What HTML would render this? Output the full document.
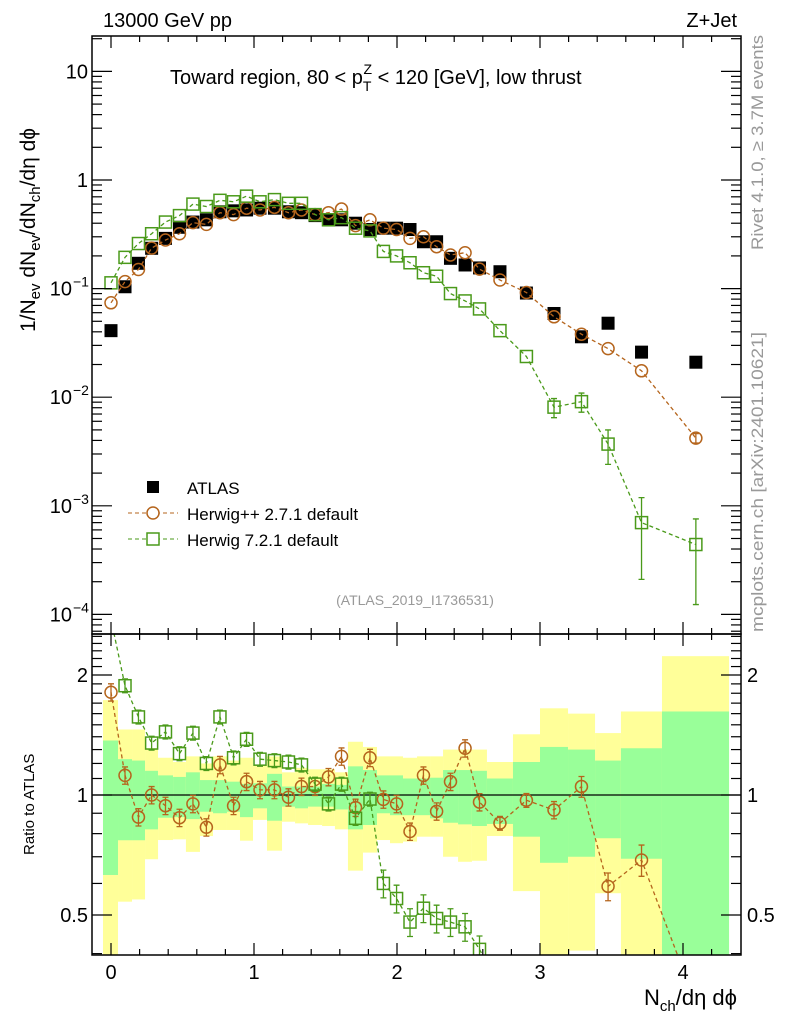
<!DOCTYPE html>
<html><head><meta charset="utf-8"><style>
html,body{margin:0;padding:0;background:#fff;overflow:hidden;width:786px;height:1024px;}
svg{display:block;font-family:"Liberation Sans",sans-serif;}
</style></head><body>
<svg id="chart" width="786" height="1024" viewBox="0 0 786 1024" xmlns="http://www.w3.org/2000/svg">
<g id="bands"></g>
<g id="marks"></g>
<g id="axes"></g>
<text x="103" y="27" font-size="20">13000 GeV pp</text>
<text x="737" y="27" font-size="20" text-anchor="end">Z+Jet</text>
<text x="170" y="84" font-size="20">Toward region, 80 &lt; p<tspan font-size="14" dy="7">T</tspan><tspan font-size="14" dx="-8" dy="-17">Z</tspan><tspan dy="10"> &lt; 120 [GeV], low thrust</tspan></text>
<text x="415" y="605" font-size="14" fill="#999" text-anchor="middle">(ATLAS_2019_I1736531)</text>
<text transform="translate(763,35) rotate(-90)" textLength="215" lengthAdjust="spacingAndGlyphs" font-size="17" fill="#999" text-anchor="end">Rivet 4.1.0, ≥ 3.7M events</text>
<text transform="translate(763,632) rotate(-90)" textLength="300" lengthAdjust="spacingAndGlyphs" font-size="17" fill="#999">mcplots.cern.ch [arXiv:2401.10621]</text>
<text transform="translate(35,332) rotate(-90)" font-size="21">1/N<tspan font-size="15" dy="5">ev</tspan><tspan dy="-5"> dN</tspan><tspan font-size="15" dy="5">ev</tspan><tspan dy="-5">/dN</tspan><tspan font-size="15" dy="5">ch</tspan><tspan dy="-5">/dη dϕ</tspan></text>
<text transform="translate(34,855) rotate(-90)" font-size="15">Ratio to ATLAS</text>
<text x="737" y="1005" font-size="22" text-anchor="end">N<tspan font-size="15" dy="6">ch</tspan><tspan dy="-6">/dη dϕ</tspan></text>
<g>
<rect x="147" y="481" width="12" height="12" fill="#000"/>
<text x="187" y="494" font-size="17">ATLAS</text>
<line x1="128" y1="513" x2="178" y2="513" stroke="#b5651d" stroke-dasharray="4,3"/>
<circle cx="153" cy="513" r="6" fill="#fff" stroke="#b5651d" stroke-width="1.5"/>
<text x="187" y="520" font-size="17">Herwig++ 2.7.1 default</text>
<line x1="128" y1="539" x2="178" y2="539" stroke="#4a9a1a" stroke-dasharray="4,3"/>
<rect x="147" y="533" width="12" height="12" fill="#fff" stroke="#4a9a1a" stroke-width="1.5"/>
<text x="187" y="546" font-size="17">Herwig 7.2.1 default</text>
</g>
</svg>
<script>
const xs=[0,0.098,0.192,0.284,0.381,0.479,0.573,0.667,0.762,0.857,0.948,1.042,1.143,1.241,1.332,1.427,1.521,1.612,1.71,1.811,1.905,1.997,2.091,2.185,2.277,2.374,2.476,2.577,2.72,2.905,3.098,3.29,3.476,3.71,4.09];
const binEdges=[-0.056,0.049,0.147,0.238,0.329,0.434,0.524,0.622,0.713,0.811,0.902,0.993,1.091,1.196,1.287,1.378,1.476,1.566,1.657,1.762,1.860,1.951,2.042,2.140,2.231,2.322,2.427,2.524,2.629,2.811,3.0,3.196,3.385,3.566,3.853,4.322];
const atlas=[0.041,0.104,0.171,0.235,0.29,0.367,0.41,0.43,0.51,0.52,0.53,0.55,0.55,0.51,0.50,0.47,0.43,0.43,0.40,0.35,0.36,0.36,0.35,0.27,0.27,0.19,0.165,0.155,0.143,0.091,0.059,0.036,0.048,0.026,0.021];
const herwigpp=[0.074,0.116,0.15,0.236,0.28,0.32,0.405,0.39,0.50,0.48,0.55,0.53,0.56,0.50,0.53,0.48,0.50,0.54,0.38,0.43,0.36,0.35,0.29,0.30,0.243,0.204,0.214,0.151,0.12,0.092,0.055,0.038,0.028,0.0175,0.0042];
const herwig7=[0.113,0.194,0.26,0.32,0.41,0.47,0.60,0.57,0.65,0.63,0.71,0.63,0.66,0.61,0.61,0.48,0.43,0.45,0.36,0.34,0.22,0.20,0.173,0.14,0.13,0.09,0.077,0.065,0.041,0.0237,0.0081,0.0091,0.0037,0.0007,0.00044];
const herwigppRatio=[1.81,1.12,0.88,1.0,0.94,0.877,0.95,0.83,1.19,0.94,1.08,1.03,1.03,0.987,1.05,1.05,1.11,1.25,0.93,1.24,0.975,0.95,0.81,1.12,0.91,1.08,1.31,0.96,0.85,0.97,0.917,1.05,0.59,0.687,0.3];
const herwig7Ratio=[2.76,1.88,1.57,1.35,1.44,1.27,1.43,1.2,1.57,1.24,1.38,1.23,1.22,1.21,1.19,1.065,0.95,1.065,0.874,0.977,0.6,0.55,0.48,0.52,0.49,0.48,0.467,0.41,0.33,0.3,0.3,0.3,0.3,0.3,0.3];
const herwigppErr=[0.05,0.05,0.05,0.05,0.05,0.05,0.05,0.05,0.05,0.05,0.05,0.05,0.05,0.05,0.05,0.05,0.05,0.05,0.05,0.05,0.05,0.05,0.05,0.05,0.05,0.05,0.05,0.05,0.04,0.04,0.05,0.06,0.08,0.09,0.1];
const herwig7Err=[0.04,0.04,0.04,0.04,0.04,0.04,0.04,0.04,0.04,0.04,0.04,0.04,0.04,0.04,0.04,0.04,0.04,0.04,0.04,0.04,0.08,0.08,0.08,0.08,0.08,0.08,0.08,0.08,0.06,0.08,0.2,0.2,0.35,0.7,0.72];
const yellowHi=[1.73,1.46,1.46,1.31,1.24,1.21,1.25,1.20,1.25,1.22,1.24,1.19,1.25,1.14,1.17,1.16,1.16,1.14,1.36,1.32,1.25,1.25,1.24,1.25,1.25,1.30,1.30,1.30,1.21,1.42,1.65,1.60,1.43,1.62,2.23];
const greenHi=[1.37,1.23,1.22,1.15,1.12,1.11,1.14,1.09,1.09,1.08,1.066,1.07,1.13,1.05,1.05,1.05,1.066,1.06,1.18,1.155,1.12,1.12,1.10,1.10,1.105,1.155,1.155,1.15,1.10,1.21,1.32,1.30,1.22,1.31,1.62];
const greenLo=[0.63,0.77,0.77,0.82,0.877,0.88,0.87,0.908,0.90,0.908,0.88,0.926,0.862,0.935,0.926,0.935,0.935,0.92,0.82,0.841,0.90,0.89,0.89,0.89,0.874,0.852,0.844,0.836,0.846,0.786,0.676,0.70,0.779,0.692,0.3];
const yellowLo=[0.3,0.54,0.547,0.69,0.771,0.774,0.72,0.789,0.817,0.817,0.768,0.866,0.725,0.857,0.849,0.841,0.836,0.82,0.646,0.717,0.771,0.757,0.764,0.786,0.786,0.70,0.68,0.684,0.789,0.574,0.3,0.407,0.567,0.3,0.3];
const xTicks=["0","1","2","3","4"];

const NS="http://www.w3.org/2000/svg";
const L=92,R=741,T=36,MB=634,RB=955;
const X=v=>111+v*143;
const YM=v=>180-Math.log10(v)*108.6;
const YR=v=>795-Math.log2(v)*120;
function mk(tag,attrs,parent){const e=document.createElementNS(NS,tag);for(const k in attrs)e.setAttribute(k,attrs[k]);parent.appendChild(e);return e;}
const bands=document.getElementById('bands'),marks=document.getElementById('marks'),axes=document.getElementById('axes');
const cp=mk('clipPath',{id:'cm'},document.getElementById('chart'));mk('rect',{x:L,y:T,width:R-L,height:MB-T},cp);
const cr=mk('clipPath',{id:'cr'},document.getElementById('chart'));mk('rect',{x:L,y:MB,width:R-L,height:RB-MB},cr);
bands.setAttribute('clip-path','url(#cr)');
for(let i=0;i<xs.length;i++){
 const x0=X(binEdges[i]),w=X(binEdges[i+1])-x0;
 const yb=Math.min(YR(yellowLo[i]),RB),gb=Math.min(YR(greenLo[i]),RB);
 let y=mk('rect',{x:x0,y:YR(yellowHi[i]),width:w,height:yb-YR(yellowHi[i]),fill:'#ffff99'},bands);
 
 let g=mk('rect',{x:x0,y:YR(greenHi[i]),width:w,height:gb-YR(greenHi[i]),fill:'#99ff99'},bands);
 
}
let one=mk('line',{x1:L,x2:R,y1:YR(1),y2:YR(1),stroke:'#000','stroke-width':1.2},bands);


const mg=mk('g',{'clip-path':'url(#cm)'},marks);
const rg=mk('g',{'clip-path':'url(#cr)'},marks);
function series(vals,errs,yf,col,shape,grp,name,minErr,top,bot){
 const pts=vals.map((v,i)=>X(xs[i])+','+yf(v)).join(' ');
 let pl=mk('polyline',{points:pts,fill:'none',stroke:col,'stroke-width':1.3,'stroke-dasharray':'4,3'},grp);
 
 vals.forEach((v,i)=>{
  const cx=X(xs[i]),cy=yf(v);
  if(cy<top-6||cy>bot+6)return;
  if(errs[i]>=minErr){
   const hi=Math.max(yf(v*(1+errs[i])),top),lo=Math.min(yf(Math.max(v*(1-errs[i]),1e-9)),bot);
   let e=mk('path',{d:`M${cx},${hi}V${lo}M${cx-3},${hi}H${cx+3}M${cx-3},${lo}H${cx+3}`,stroke:col,'stroke-width':1.3,fill:'none'},grp);
   
  }
  let m=shape==='c'?mk('circle',{cx:cx,cy:cy,r:6,fill:'none',stroke:col,'stroke-width':1.5},grp):mk('rect',{x:cx-6,y:cy-6,width:12,height:12,fill:'none',stroke:col,'stroke-width':1.5},grp);
  
 });
}
atlas.forEach((v,i)=>{let r=mk('rect',{x:X(xs[i])-6.5,y:YM(v)-6.5,width:13,height:13,fill:'#000'},mg);
 });
series(herwigpp,herwigppErr,YM,'#b5651d','c',mg,'herwigpp',0.1,T,MB);
series(herwig7,herwig7Err,YM,'#4a9a1a','s',mg,'herwig7',0.15,T,MB);
series(herwigppRatio,herwigppErr,YR,'#b5651d','c',rg,'herwigpp-ratio',0,MB,RB);
series(herwig7Ratio,herwig7Err,YR,'#4a9a1a','s',rg,'herwig7-ratio',0,MB,RB);

[[T,MB],[MB,RB]].forEach(([a,b],k)=>{let f=mk('rect',{x:L,y:a,width:R-L,height:b-a,fill:'none',stroke:'#000','stroke-width':1.5},axes);
 });
function tk(x1,y1,x2,y2){mk('line',{x1,y1,x2,y2,stroke:'#000','stroke-width':1.2},axes);}
for(let v=0;v<=4.4;v+=0.2){const x=X(v),maj=Math.abs(v-Math.round(v))<1e-6,l=maj?12:6;
 [T,MB].forEach(y=>tk(x,y,x,y+l));[MB,RB].forEach(y=>tk(x,y,x,y-l));}
xTicks.forEach((t,i)=>{let e=mk('text',{x:X(i),y:979,'font-size':20,'text-anchor':'middle'},axes);e.textContent=t;
 });
for(let d=-5;d<=1;d++)for(let m=1;m<10;m++){const y=YM(m*Math.pow(10,d));if(y<T||y>MB)continue;const l=m===1?20:10;tk(L,y,L+l,y);tk(R,y,R-l,y);}
const yLabs=[[10,'10',''],[1,'1',''],[0.1,'10','−1'],[0.01,'10','−2'],[0.001,'10','−3'],[0.0001,'10','−4']];
yLabs.forEach(([v,b,s])=>{let e=mk('text',{x:s?72:88,y:YM(v)+7,'font-size':20,'text-anchor':'end'},axes);e.textContent=b;
 
 if(s){let p=mk('text',{x:73,y:YM(v)-2,'font-size':14},axes);p.textContent=s;}});
for(let v=0.4;v<=2.55;v+=0.1){const y=YR(v);if(y<MB||y>RB)continue;const maj=[0.5,1,2].some(q=>Math.abs(q-v)<1e-6),l=maj?20:10;tk(L,y,L+l,y);tk(R,y,R-l,y);}
[[2,'2'],[1,'1'],[0.5,'0.5']].forEach(([v,t])=>{let e=mk('text',{x:88,y:YR(v)+7,'font-size':20,'text-anchor':'end'},axes);e.textContent=t;
 
 let f=mk('text',{x:747,y:YR(v)+7,'font-size':20},axes);f.textContent=t;
 });
</script>
</body></html>
